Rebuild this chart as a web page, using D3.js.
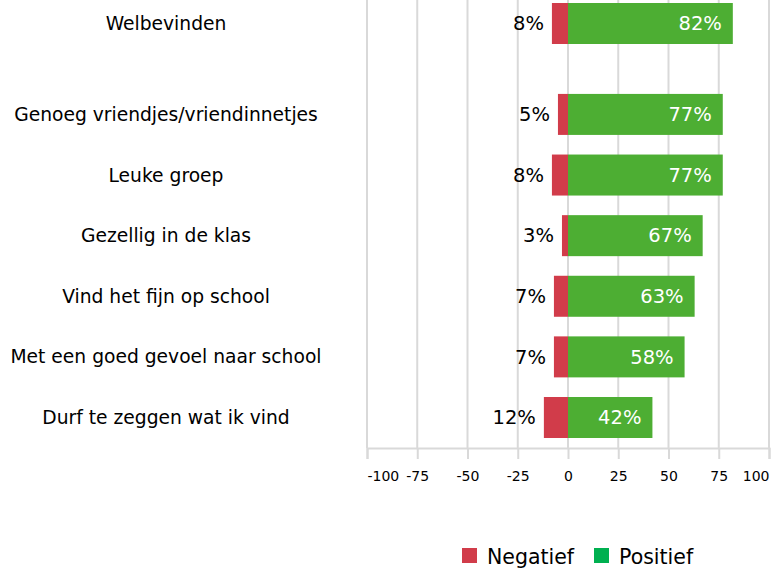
<!DOCTYPE html>
<html>
<head>
<meta charset="utf-8">
<script src="https://cdn.jsdelivr.net/npm/d3@7"></script>
<style>
  body { margin: 0; background: #fff; }
  svg { display: block; font-family: "DejaVu Sans", Verdana, sans-serif; }
</style>
</head>
<body>
<svg id="chart" width="778" height="572"></svg>
<script>
// chart data
const categories = [
  'Welbevinden',
  'Genoeg vriendjes/vriendinnetjes',
  'Leuke groep',
  'Gezellig in de klas',
  'Vind het fijn op school',
  'Met een goed gevoel naar school',
  'Durf te zeggen wat ik vind'
];
const negatief = [8, 5, 8, 3, 7, 7, 12];
const positief = [82, 77, 77, 67, 63, 58, 42];
const xTicks = [-100, -75, -50, -25, 0, 25, 50, 75, 100];
const seriesNames = ['Negatief', 'Positief'];

const svg = d3.select('#chart');

const x = d3.scaleLinear().domain([-100, 100]).range([367, 769]);

// first row (Welbevinden) stands apart with an extra half-row gap
const slot = (i) => (i === 0 ? 0 : i + 0.5);
const y = d3.scaleLinear().domain([0, 6.5]).range([23.5, 417.5]);
const barH = 41;
const axisY = 448;

// gridlines
svg.append('g')
  .selectAll('line')
  .data(xTicks)
  .enter()
  .append('line')
  .attr('x1', (d) => x(d))
  .attr('x2', (d) => x(d))
  .attr('y1', 0)
  .attr('y2', axisY)
  .attr('stroke', '#d9d9d9')
  .attr('stroke-width', 2);

// x axis
const axis = svg.append('g')
  .attr('transform', `translate(0,${axisY})`)
  .call(d3.axisBottom(x).tickValues(xTicks).tickSize(11).tickPadding(12).tickFormat((d) => String(d)));
axis.select('.domain').attr('stroke', '#d9d9d9').attr('stroke-width', 2);
axis.selectAll('.tick line').attr('stroke', '#d9d9d9').attr('stroke-width', 2);
axis.selectAll('.tick text')
  .attr('fill', '#000')
  .style('font-size', '14px')
  .style('font-family', '"DejaVu Sans", Verdana, sans-serif')
  // keep the outer labels inside the plot edges
  .attr('text-anchor', (d, i) => (i === 0 ? 'start' : i === xTicks.length - 1 ? 'end' : 'middle'));

const rows = categories.map((c, i) => ({ c, neg: negatief[i], pos: positief[i], i }));

// category labels
svg.append('g')
  .selectAll('text')
  .data(rows)
  .enter()
  .append('text')
  .attr('x', 166)
  .attr('y', (d) => y(slot(d.i)))
  .attr('dy', '0.35em')
  .attr('text-anchor', 'middle')
  .style('font-size', '18.7px')
  .attr('fill', '#000')
  .text((d) => d.c);

// negative bars
svg.append('g')
  .selectAll('rect')
  .data(rows)
  .enter()
  .append('rect')
  .attr('x', (d) => x(-d.neg))
  .attr('y', (d) => y(slot(d.i)) - barH / 2)
  .attr('width', (d) => x(0) - x(-d.neg))
  .attr('height', barH)
  .attr('fill', '#d13c4a');

// positive bars
svg.append('g')
  .selectAll('rect')
  .data(rows)
  .enter()
  .append('rect')
  .attr('x', x(0))
  .attr('y', (d) => y(slot(d.i)) - barH / 2)
  .attr('width', (d) => x(d.pos) - x(0))
  .attr('height', barH)
  .attr('fill', '#4dae33');

// negative labels
svg.append('g')
  .selectAll('text')
  .data(rows)
  .enter()
  .append('text')
  .attr('x', (d) => x(-d.neg) - 8)
  .attr('y', (d) => y(slot(d.i)))
  .attr('dy', '0.35em')
  .attr('text-anchor', 'end')
  .style('font-size', '19.5px')
  .attr('fill', '#000')
  .text((d) => d.neg + '%');

// positive labels
svg.append('g')
  .selectAll('text')
  .data(rows)
  .enter()
  .append('text')
  .attr('x', (d) => x(d.pos) - 11)
  .attr('y', (d) => y(slot(d.i)))
  .attr('dy', '0.35em')
  .attr('text-anchor', 'end')
  .style('font-size', '19.5px')
  .attr('fill', '#fff')
  .text((d) => d.pos + '%');

// legend
const legendColors = ['#d13c4a', '#00b050'];
const legendX = [462, 594];
const legend = svg.append('g')
  .selectAll('g')
  .data(seriesNames)
  .enter()
  .append('g')
  .attr('transform', (d, i) => `translate(${legendX[i]},548)`);
legend.append('rect')
  .attr('width', 15)
  .attr('height', 15)
  .attr('fill', (d, i) => legendColors[i]);
legend.append('text')
  .attr('x', 25)
  .attr('y', 9)
  .attr('dy', '0.35em')
  .style('font-size', '20.5px')
  .attr('fill', '#000')
  .text((d) => d);
</script>
</body>
</html>
